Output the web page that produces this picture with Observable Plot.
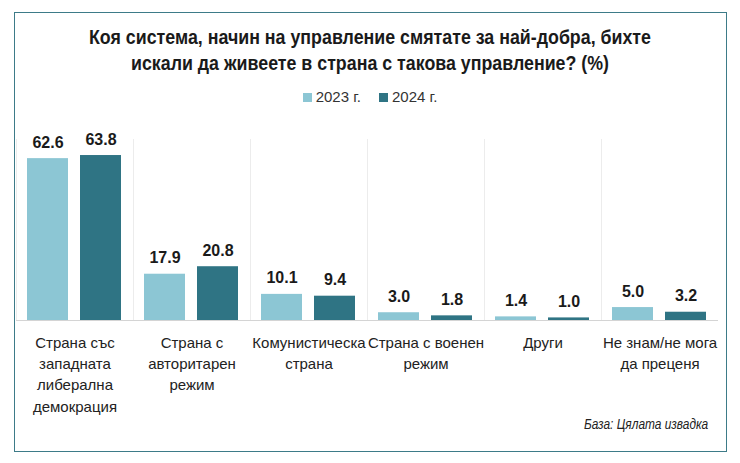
<!DOCTYPE html>
<html><head><meta charset="utf-8">
<script src="https://cdn.jsdelivr.net/npm/d3@7"></script>
<script src="https://cdn.jsdelivr.net/npm/@observablehq/plot@0.6"></script>
<style>
body{margin:0;background:#fff;font-family:"Liberation Sans",Arial,sans-serif;}
#box{position:absolute;left:14px;top:12px;width:711px;height:438px;border:1.5px solid #3d7b88;}
#title{position:absolute;left:0;top:24px;width:740px;text-align:center;font-weight:bold;font-size:20px;line-height:26px;color:#1a1a1a;transform:scaleX(0.89);transform-origin:370px 0;}
#legend{position:absolute;left:0;top:88px;width:740px;text-align:center;font-size:15px;color:#333;}
#legend span.sw{display:inline-block;width:9px;height:9px;margin-right:4px;}
#legend span.item{margin:0 9px;}
#chart{position:absolute;left:0;top:125px;}
#caption{position:absolute;right:32px;top:416px;font-style:italic;font-size:14px;color:#222;transform:scaleX(0.85);transform-origin:right center;}
</style></head>
<body>
<div id="box"></div>
<div id="title">Коя система, начин на управление смятате за най-добра, бихте<br>искали да живеете в страна с такова управление? (%)</div>
<div id="legend"></div>
<div id="chart"></div>
<div id="caption">База: Цялата извадка</div>
<script>
const categories = ["Страна със\nзападната\nлиберална\nдемокрация","Страна с\nавторитарен\nрежим","Комунистическа\nстрана","Страна с военен\nрежим","Други","Не знам/не мога\nда преценя"];
const years = ["2023 г.","2024 г."];
const values2023 = [62.6,17.9,10.1,3.0,1.4,5.0];
const values2024 = [63.8,20.8,9.4,1.8,1.0,3.2];
const colors = ["#8cc6d4","#2f7484"];

const data = [];
categories.forEach((c,i)=>{
  data.push({cat:c, year:years[0], value:values2023[i]});
  data.push({cat:c, year:years[1], value:values2024[i]});
});

const leg = document.getElementById("legend");
leg.innerHTML = years.map((y,i)=>`<span class="item"><span class="sw" style="background:${colors[i]}"></span>${y}</span>`).join("");

const chart = Plot.plot({
  width: 740,
  height: 315,
  marginLeft: 16,
  marginRight: 22,
  marginTop: 14,
  marginBottom: 120,
  style: {fontFamily: '"Liberation Sans",Arial,sans-serif', background: "transparent"},
  fx: {domain: categories, padding: 0, label: null},
  x: {domain: years, paddingInner: 0.222, paddingOuter: 0.204, axis: null},
  y: {domain: [0, 70], axis: null},
  color: {domain: years, range: colors},
  marks: [
    Plot.frame({anchor: "left", stroke: "#ececec"}),
    Plot.barY(data, {fx: "cat", x: "year", y: "value", fill: "year"}),
    Plot.ruleY([0], {stroke: "#d4d4d4", strokeWidth: 1.2}),
    Plot.text(data, {fx: "cat", x: "year", y: "value", text: d => d.value.toFixed(1), dy: -11, lineAnchor: "bottom", fontWeight: "bold", fontSize: 16, fill: "#1a1a1a"}),
    Plot.axisFx({anchor: "bottom", tickSize: 0, tickPadding: 12, fontSize: 15, lineHeight: 1.42, fill: "#222", label: null, tickFormat: d => d})
  ]
});
document.getElementById("chart").appendChild(chart);
</script>
</body></html>
